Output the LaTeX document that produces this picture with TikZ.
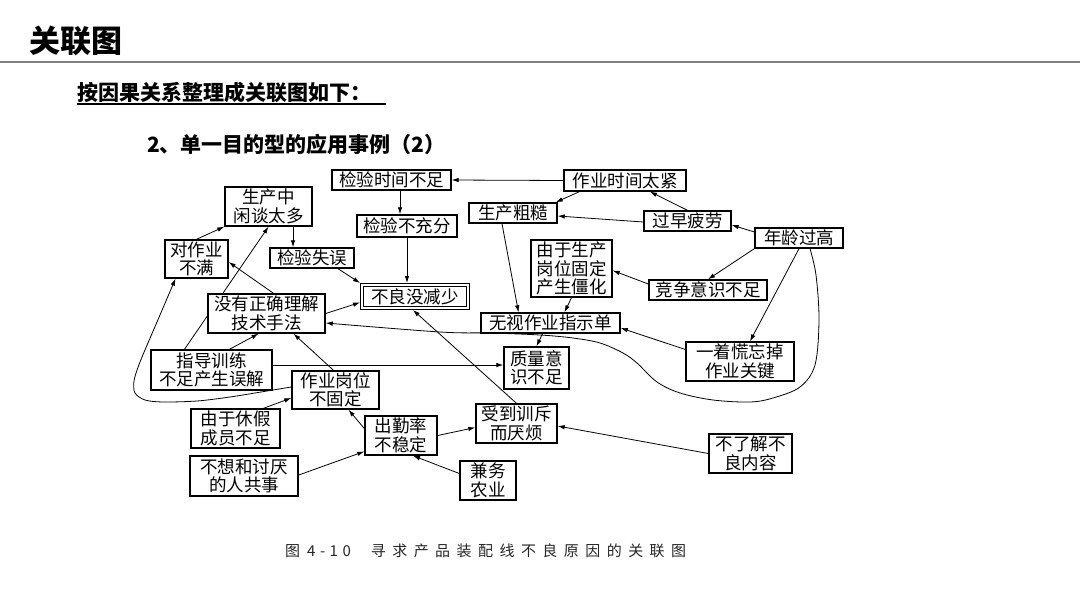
\documentclass[tikz,border=0pt]{standalone}
\usepackage{fontspec}
\setmainfont{Noto Sans CJK SC}
\newfontfamily\capA[LetterSpace=30]{Noto Sans CJK SC}
\newfontfamily\capB[LetterSpace=43]{Noto Sans CJK SC}
\usetikzlibrary{arrows.meta,calc}
\pgfdeclarelayer{bg}
\pgfsetlayers{bg,main}
\begin{document}
\begin{tikzpicture}[x=1pt,y=-1pt,
  box/.style={draw=black, line width=1.4pt, fill=white, inner xsep=1pt, inner ysep=0.5pt, align=center,
    font=\fontsize{17.5}{18.5}\selectfont},
  wh/.style 2 args={minimum width=#1pt, minimum height=#2pt},
  dbox/.style={draw=black, double, double distance=1.8pt, line width=1.1pt, fill=white,
    inner sep=1pt, outer sep=2pt, align=center, font=\fontsize{17.5}{18.5}\selectfont},
  arr/.style={-{Latex[length=7pt,width=4.5pt]}, line width=0.8pt, black},
]
\useasboundingbox (0,0) rectangle (1080,608);

% ---------- header ----------
\node[anchor=west, font=\fontsize{31}{31}\selectfont\bfseries, inner sep=0pt] (ttl) at (29,41) {关联图};
\node[anchor=west, font=\fontsize{21}{21}\selectfont\bfseries, inner sep=0pt] (sub) at (77,92) {按因果关系整理成关联图如下：};
\node[anchor=west, font=\fontsize{21}{21}\selectfont\bfseries, inner sep=0pt] (ex) at (147,144) {2、单一目的型的应用事例（2）};
\node[anchor=west, font=\fontsize{15}{15}\selectfont, text=black!85, inner sep=0pt] (cap) at (285,551) {{\capA 图\hspace{7pt}4-10}\hspace{20pt}{\capB 寻求产品装配线不良原因的关联图}};

% ---------- nodes ----------
\node[box, wh={119}{20}] (tjsj) at (391.5,180) {检验时间不足};
\node[box, wh={122}{21}] (zysj) at (625,180.5) {作业时间太紧};
\node[box, wh={88}{20}] (sccc) at (513,213) {生产粗糙};
\node[box, wh={87}{20}] (gzpl) at (687.5,221) {过早疲劳};
\node[box, wh={88}{20}] (nlgg) at (799,238) {年龄过高};
\node[box, wh={81}{57}] (gwgd) at (571.5,268.5) {由于生产\\岗位固定\\产生僵化};
\node[box, wh={118}{20}] (jzys) at (708,290) {竞争意识不足};
\node[box, wh={139}{20}] (wszy) at (550.5,323) {无视作业指示单};
\node[box, wh={108}{39}] (yzh) at (740,361.5) {一着慌忘掉\\作业关键};
\node[box, wh={65}{42}] (zlys) at (536.5,368) {质量意\\识不足};
\node[box, wh={81}{39}] (sdxc) at (516.5,423.5) {受到训斥\\而厌烦};
\node[box, wh={83}{39}] (bljl) at (750.5,453.5) {不了解不\\良内容};
\node[box, wh={56}{39}] (jwny) at (488,480.5) {兼务\\农业};
\node[box, wh={87}{39}] (sczx) at (268.5,206.5) {生产中\\闲谈太多};
\node[box, wh={63}{38}] (dzbm) at (196.5,259) {对作业\\不满};
\node[box, wh={84}{20}] (jysw) at (312,258) {检验失误};
\node[box, wh={100}{22}] (jybc) at (407,226) {检验不充分};
\node[dbox, minimum width=106pt, minimum height=23pt] (blmj) at (415,296.5) {不良没减少};
\node[box, wh={117}{39}] (mzql) at (266.5,313.5) {没有正确理解\\技术手法};
\node[box, wh={121}{40}] (zdxl) at (211.5,370) {指导训练\\不足产生误解};
\node[box, wh={87}{38}] (zygw) at (335.5,390) {作业岗位\\不固定};
\node[box, wh={89}{39}] (yxj) at (235.5,428.5) {由于休假\\成员不足};
\node[box, wh={108}{40}] (bxht) at (244,476) {不想和讨厌\\的人共事};
\node[box, wh={72}{39}] (cql) at (401,435.5) {出勤率\\不稳定};

% ---------- background + connectors ----------
\begin{pgfonlayer}{bg}
\fill[white] (0,0) rectangle (1080,608);
\draw[line width=2pt, black!50] (0,62) -- (1080,62);
\draw[line width=1.3pt] ($(sub.south west)+(0,1.5)$) -- ($(sub.south east)+(15,1.5)$);

\draw[arr] (zysj.west) -- (tjsj.east);
\draw[arr] ($(zysj.south west)+(16,0)$) -- ($(sccc.north east)+(-2,0)$);
\draw[arr] (gzpl.north) -- ($(zysj.south)+(25,0)$);
\draw[arr] ($(gzpl.west)+(0,1)$) -- ($(sccc.east)+(0,3)$);
\draw[arr] ($(nlgg.west)+(0,-6)$) -- ($(gzpl.east)+(0,4)$);
\draw[arr] (nlgg.south west) -- (jzys.north);
\draw[arr] (nlgg.south) -- ($(yzh.north)+(10,0)$);
\draw[arr] plot[smooth, tension=0.55] coordinates {($(nlgg.south)+(11,0)$) (816,275) (819,320) (815,365) (800,387) (773,398) (750,402) (713,400) (680,393) (657,382) (637,363) (623,353) (600,343) (573,338) (540,335) (490,333) (440,332) ($(mzql.east)+(0,9.5)$)};
\draw[arr] ($(yzh.west)+(0,-12)$) -- ($(wszy.east)+(0,5)$);
\draw[arr] ($(sccc.south)+(-11,0)$) -- ($(wszy.north)+(-32,0)$);
\draw[arr] (gwgd.south) -- ($(wszy.north)+(14,0)$);
\draw[arr] ($(jzys.west)+(0,-6)$) -- ($(gwgd.east)+(0,2)$);
\draw[arr] ($(wszy.south)+(-8,0)$) -- (zlys.north);
\draw[arr] ($(tjsj.south)+(8.5,0)$) -- ($(jybc.north)+(-7,0)$);
\draw[arr] (jybc.south) -- ($(blmj.north)+(-8,0)$);
\draw[arr] ($(sczx.south)+(24.5,0)$) -- ($(jysw.north)+(-19,0)$);
\draw[arr] ($(jysw.south)+(26,0)$) -- (blmj.north west);
\draw[arr] (mzql.east) -- ($(blmj.west)+(0,6)$);
\draw[arr] ($(mzql.north)+(7,0)$) -- ($(dzbm.east)+(0,3)$);
\draw[arr] (dzbm.north) -- (sczx.south west);
\draw[arr] ($(zdxl.north)+(-27,0)$) -- (sczx.south);
\draw[arr] ($(zdxl.north)+(18,0)$) -- ($(mzql.south)+(-8,0)$);
\draw[arr] ($(zygw.north)+(-2,0)$) -- ($(mzql.south)+(27,0)$);
\draw[arr] ($(zdxl.east)+(0,-5)$) -- ($(zlys.west)+(0,-3)$);
\draw[arr] plot[smooth, tension=0.5] coordinates {($(zygw.west)+(0,-3)$) (273,390) (230,397) (197,401) (163,402) (145,400) (135,393) (134,381) (140,362) (157,322) ($(dzbm.south)+(-21,0)$)};
\draw[arr] ($(cql.west)+(0,-7)$) -- ($(zygw.south)+(13,0)$);
\draw[arr] ($(yxj.north)+(28,0)$) -- ($(zygw.west)+(0,8)$);
\draw[arr] ($(bxht.east)+(0,-1)$) -- ($(cql.west)+(0,16)$);
\draw[arr] ($(jwny.west)+(0,-7)$) -- ($(cql.south)+(12,0)$);
\draw[arr] (cql.east) -- ($(sdxc.west)+(0,4)$);
\draw[arr] (bljl.west) -- ($(sdxc.east)+(0,2.5)$);
\draw[arr] (sdxc.north) -- ($(blmj.south)+(-2,0)$);
\end{pgfonlayer}
\end{tikzpicture}
\end{document}
